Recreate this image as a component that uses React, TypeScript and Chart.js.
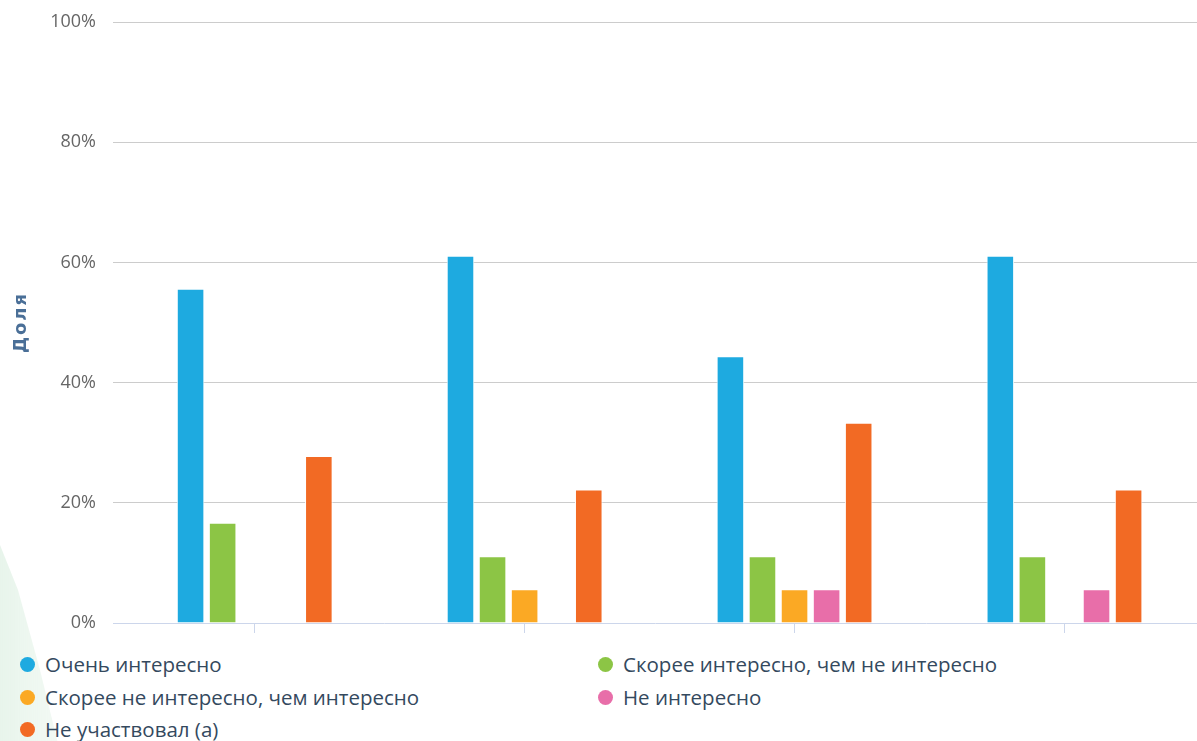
import React, { useEffect, useRef } from 'react';
import { Chart, registerables } from 'chart.js';

Chart.register(...registerables);

// ---- data ----
const categories = [0, 1, 2, 3];
const seriesNames = [
  'Очень интересно',
  'Скорее интересно, чем не интересно',
  'Скорее не интересно, чем интересно',
  'Не интересно',
  'Не участвовал (а)',
];
const seriesColors = ['#1eaae0', '#8cc545', '#fba924', '#e86ea9', '#f26a24'];
const veryInteresting = [55.6, 61.1, 44.4, 61.1];
const ratherInteresting = [16.7, 11.1, 11.1, 11.1];
const ratherNotInteresting = [null, 5.6, 5.6, null];
const notInteresting = [null, null, 5.6, 5.6];
const didNotTakePart = [27.8, 22.2, 33.3, 22.2];
const yTickValues = [0, 20, 40, 60, 80, 100];
const yAxisTitle = 'Доля';

const seriesValues = [veryInteresting, ratherInteresting, ratherNotInteresting, notInteresting, didNotTakePart];

// legend layout: [left, centerY]
const legendPos = [
  [20, 664],
  [598, 664],
  [20, 697],
  [598, 697],
  [20, 729],
];

const yTitlePlugin = {
  id: 'yTitle',
  afterDraw(chart: any) {
    const { ctx, chartArea } = chart;
    ctx.save();
    ctx.translate(21, (chartArea.top + chartArea.bottom) / 2);
    ctx.rotate(-Math.PI / 2);
    ctx.font = 'bold 18px "DejaVu Sans"';
    try {
      (ctx as any).letterSpacing = '2px';
    } catch (e) {}
    ctx.fillStyle = '#4a6f97';
    ctx.textAlign = 'center';
    ctx.textBaseline = 'middle';
    ctx.fillText(yAxisTitle, 0, 0);
    ctx.restore();
  },
};

export default function App() {
  const ref = useRef<HTMLCanvasElement | null>(null);

  useEffect(() => {
    if (!ref.current) return;
    const chart = new Chart(ref.current, {
      type: 'bar',
      data: {
        datasets: seriesValues.map((vals, si) => ({
          label: seriesNames[si],
          data: categories.map((c, i) => ({ x: c, y: vals[i] as any })),
          backgroundColor: seriesColors[si],
          borderColor: '#ffffff',
          borderWidth: 1,
          borderSkipped: 'start',
          categoryPercentage: 0.594,
          barPercentage: 0.86,
        })),
      },
      plugins: [yTitlePlugin],
      options: {
        animation: false,
        responsive: false,
        layout: { padding: { top: 22, right: 0, left: 0, bottom: 0 } },
        plugins: { legend: { display: false }, tooltip: { enabled: false } },
        scales: {
          x: {
            type: 'linear',
            min: -0.525,
            max: 3.491,
            offset: false,
            afterBuildTicks: (s: any) => {
              s.ticks = categories.map((c) => ({ value: c }));
            },
            ticks: {
              callback: () => '',
              padding: 0,
            },
            grid: {
              offset: false,
              drawOnChartArea: false,
              drawTicks: true,
              tickLength: 10,
              color: '#ccd6eb',
              tickColor: '#ccd6eb',
              lineWidth: 1,
            },
            border: { display: true, color: '#ccd6eb', width: 1 },
            afterFit: (s: any) => {
              s.height = 27;
            },
          },
          y: {
            min: 0,
            max: 100,
            afterBuildTicks: (s: any) => {
              s.ticks = yTickValues.map((v) => ({ value: v }));
            },
            ticks: {
              callback: (v: any) => v + '%',
              color: '#666666',
              font: { family: 'Open Sans', size: 18 },
              padding: 0,
            },
            grid: {
              drawTicks: true,
              tickLength: 17,
              tickColor: 'rgba(0,0,0,0)',
              color: (c: any) => (c.tick && c.tick.value === 0 ? 'rgba(0,0,0,0)' : '#cccccc'),
              lineWidth: 1,
            },
            border: { display: false },
            title: { display: false },
            afterFit: (s: any) => {
              s.width = 113;
            },
          },
        },
      },
    });
    return () => chart.destroy();
  }, []);

  return (
    <div
      style={{
        position: 'fixed',
        left: 0,
        top: 0,
        width: 1197,
        height: 741,
        overflow: 'hidden',
        background: '#ffffff',
      }}
    >
      <div
        style={{
          position: 'absolute',
          left: -10,
          top: 520,
          width: 100,
          height: 240,
          clipPath: 'polygon(0px 0px, 28px 70px, 50px 150px, 72px 240px, 0px 240px)',
          background: 'linear-gradient(to right, rgba(200,230,208,0.45), rgba(228,243,232,0.25))',
          filter: 'blur(4px)',
        }}
      />
      <canvas ref={ref} width={1197} height={650} style={{ position: 'absolute', left: 0, top: 0 }} />
      {seriesNames.map((name, i) => (
        <div
          key={name}
          style={{
            position: 'absolute',
            left: legendPos[i][0],
            top: legendPos[i][1] - 14,
            height: 28,
            display: 'flex',
            alignItems: 'center',
            fontFamily: '"Open Sans"',
            fontSize: 20.5,
            color: '#34495e',
            whiteSpace: 'nowrap',
          }}
        >
          <span
            style={{
              display: 'inline-block',
              width: 15,
              height: 15,
              borderRadius: '50%',
              background: seriesColors[i],
              marginRight: 10,
              flex: 'none',
            }}
          />
          {name}
        </div>
      ))}
    </div>
  );
}
